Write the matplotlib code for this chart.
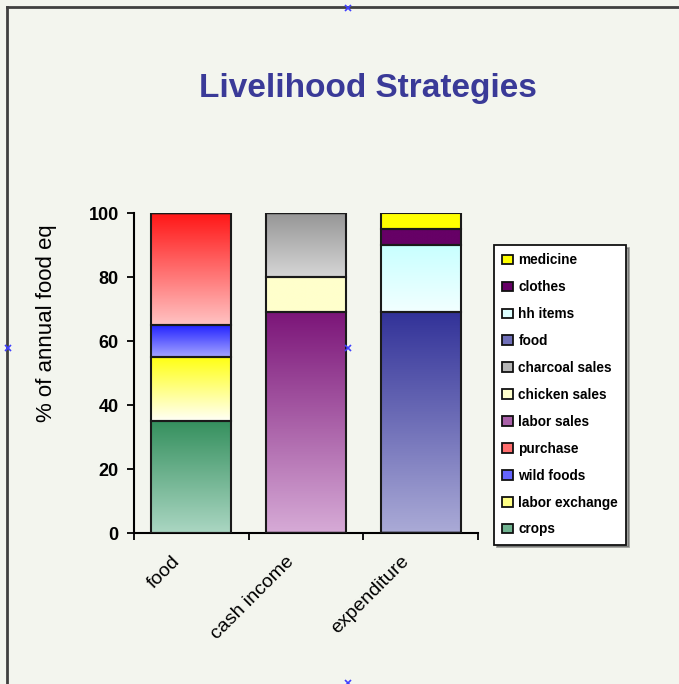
import matplotlib.pyplot as plt
import matplotlib.transforms as mtransforms
import numpy as np
from matplotlib.colors import LinearSegmentedColormap, to_rgb
from matplotlib.lines import Line2D
from matplotlib.patches import Patch

plt.rcParams['font.family'] = ['Liberation Sans', 'DejaVu Sans']

# data
categories = ['food', 'cash income', 'expenditure']
series = ['crops', 'labor exchange', 'wild foods', 'purchase', 'labor sales',
          'chicken sales', 'charcoal sales', 'food', 'hh items', 'clothes', 'medicine']
values = [
    [35, 0, 0],   # crops
    [20, 0, 0],   # labor exchange
    [10, 0, 0],   # wild foods
    [35, 0, 0],   # purchase
    [0, 69, 0],   # labor sales
    [0, 11, 0],   # chicken sales
    [0, 20, 0],   # charcoal sales
    [0, 0, 69],   # food
    [0, 0, 21],   # hh items
    [0, 0, 5],    # clothes
    [0, 0, 5],    # medicine
]
# gradient colours (top, bottom) for each series
grad_colors = [
    ('#35905e', '#aad6c2'),
    ('#ffff14', '#fffff6'),
    ('#2424ff', '#a4a4ff'),
    ('#ff1717', '#ffc2c2'),
    ('#7c1679', '#d6aad6'),
    ('#ffffcc', '#ffffcc'),
    ('#969696', '#d6d6d6'),
    ('#333399', '#aaaad6'),
    ('#c8ffff', '#f2ffff'),
    ('#660066', '#660066'),
    ('#ffff00', '#ffff00'),
]
bg = '#f3f5ee'

fig = plt.figure(figsize=(6.79, 6.84), dpi=100, facecolor=bg)
ax = fig.add_axes([134/679, 1-533/684, 344/679, 320/684], facecolor=bg)

x = np.arange(len(categories))
bottom = np.zeros(len(categories))
for name, vals, (c_top, c_bot) in zip(series, values, grad_colors):
    bars = ax.bar(x, vals, 0.7, bottom=bottom, facecolor='none',
                  edgecolor='#1a1a1a', linewidth=1.5, zorder=3)
    cmap = LinearSegmentedColormap.from_list(name, [c_top, c_bot])
    for b in bars:
        if b.get_height() <= 0:
            continue
        grad = np.linspace(0, 1, 100).reshape(-1, 1)
        ax.imshow(grad, cmap=cmap, aspect='auto', zorder=2,
                  extent=(b.get_x(), b.get_x() + b.get_width(),
                          b.get_y(), b.get_y() + b.get_height()))
    bottom += np.array(vals)

ax.set_xlim(-0.5, 2.5)
ax.set_ylim(0, 100)
ax.spines['top'].set_visible(False)
ax.spines['right'].set_visible(False)
ax.spines['left'].set_linewidth(1.5)
ax.spines['bottom'].set_linewidth(1.5)

ax.set_yticks(range(0, 101, 20))
ax.tick_params(axis='y', length=5, width=1.3, pad=6, labelsize=13)
for t in ax.get_yticklabels():
    t.set_fontweight('bold')

ax.set_xticks(x)
ax.set_xticklabels(categories, rotation=45, ha='right', rotation_mode='anchor',
                   fontsize=14)
ax.tick_params(axis='x', length=0, pad=12)
shift = mtransforms.ScaledTranslation(-0.2, -0.03, fig.dpi_scale_trans)
for t in ax.get_xticklabels():
    t.set_transform(t.get_transform() + shift)
ax.set_xticks(np.arange(-0.5, 2.6, 1), minor=True)
ax.tick_params(axis='x', which='minor', length=5, width=1.3)

ax.set_ylabel('% of annual food eq', fontsize=16)
ax.yaxis.set_label_coords(-0.224, 0.656)

fig.text(368/679, 1-97/684, 'Livelihood Strategies', ha='center', va='baseline',
         fontsize=24, fontweight='bold', color='#3a3a98')

# legend, reversed order
handles = [Patch(facecolor=grad_colors[i][0] if i in (9, 10) else
                 np.mean([np.array(to_rgb(c)) for c in grad_colors[i]], axis=0),
                 edgecolor='#111111', linewidth=1.3, label=series[i])
           for i in range(len(series) - 1, -1, -1)]
leg = fig.legend(handles=handles, loc='upper left',
                 bbox_to_anchor=(494/679, 1-245/684), bbox_transform=fig.transFigure,
                 prop={'size': 9.8, 'weight': 'bold'}, frameon=True, fancybox=False,
                 shadow=True, labelspacing=0.95, handlelength=0.8, handleheight=0.7,
                 handletextpad=0.4, borderpad=0.6, borderaxespad=0)
leg.get_frame().set_edgecolor('#111111')
leg.get_frame().set_linewidth(1.3)
leg.get_frame().set_facecolor('white')

# outer frame lines
fig.add_artist(Line2D([7/679, 1], [1-7/684, 1-7/684], transform=fig.transFigure,
                      color='#404040', linewidth=2))
fig.add_artist(Line2D([7/679, 7/679], [0, 1-7/684], transform=fig.transFigure,
                      color='#404040', linewidth=2))
# selection handles
for hx, hy in [(348, 8), (8, 348), (348, 348), (348, 683)]:
    fig.add_artist(Line2D([hx/679], [1-hy/684], transform=fig.transFigure,
                          marker='x', markersize=5, color='#4040ff',
                          markeredgewidth=1.2, linestyle='none'))

fig.savefig('out.png', dpi=100, facecolor=bg)
